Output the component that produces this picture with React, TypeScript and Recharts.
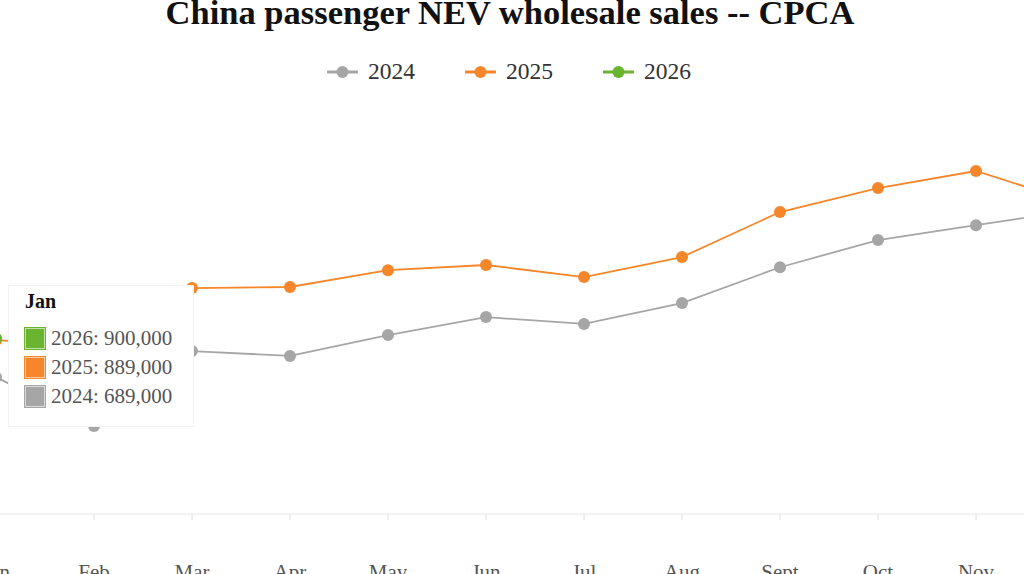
import React from 'react';
import { LineChart, Line, XAxis, YAxis, Tooltip, Legend } from 'recharts';

const months = ['Jan', 'Feb', 'Mar', 'Apr', 'May', 'Jun', 'Jul', 'Aug', 'Sept', 'Oct', 'Nov', 'Dec'];
const sales2024 = [689000, 425000, 830000, 804000, 917000, 1014000, 977000, 1090000, 1284000, 1431000, 1512000, 1592000];
const sales2025 = [889000, 860000, 1171000, 1177000, 1268000, 1296000, 1231000, 1339000, 1583000, 1713000, 1805000, 1636000];
const sales2026: (number | null)[] = [900000, null, null, null, null, null, null, null, null, null, null, null];

const seriesNames = ['2024', '2025', '2026'];
const seriesColors = ['#a6a6a6', '#f5862a', '#6ab42f'];

const data = months.map((m, i) => ({
  month: m,
  '2024': sales2024[i],
  '2025': sales2025[i],
  '2026': sales2026[i],
}));

const SERIF = '"Liberation Serif", "Times New Roman", serif';

const LegendContent = () => (
  <div style={{ display: 'flex', justifyContent: 'center', alignItems: 'center', fontFamily: SERIF, fontSize: 23.5, color: '#333' }}>
    {seriesNames.map((n, i) => (
      <div key={n} style={{ display: 'flex', alignItems: 'center', margin: '0 25px' }}>
        <svg width={31} height={14} style={{ marginRight: 10 }}>
          <line x1={0} y1={7} x2={31} y2={7} stroke={seriesColors[i]} strokeWidth={3} />
          <circle cx={15.5} cy={7} r={6} fill={seriesColors[i]} />
        </svg>
        <span>{n}</span>
      </div>
    ))}
  </div>
);

const TooltipContent = (props: any) => {
  const { payload, label } = props;
  if (!payload || !payload.length) return null;
  const items = [...payload].reverse();
  return (
    <div style={{ background: '#fff', border: '1px solid rgba(0,0,0,0.05)', padding: '4px 18px 15px 16px', fontFamily: SERIF, width: 150 }}>
      <div style={{ fontWeight: 'bold', fontSize: 20, color: '#111', marginBottom: 11 }}>{label}</div>
      {items.map((p: any) => (
        <div key={p.dataKey} style={{ display: 'flex', alignItems: 'center', height: 29, fontSize: 21, color: '#555' }}>
          <span style={{ display: 'inline-block', width: 18, height: 19, background: p.color, border: '1px solid rgba(255,255,255,0.6)', outline: '1px solid ' + p.color, marginRight: 6 }} />
          <span>{p.name}: {Number(p.value).toLocaleString('en-US')}</span>
        </div>
      ))}
    </div>
  );
};

export default function App() {
  return (
    <div style={{ position: 'absolute', left: 0, top: 0, width: 1024, height: 574, overflow: 'hidden', background: '#fff' }}>
      <div style={{ position: 'absolute', left: -4, top: 0 }}>
        <LineChart width={1078} height={574} data={data} margin={{ top: 135, right: 0, bottom: 0, left: 0 }}>
          <XAxis
            dataKey="month"
            height={60}
            interval={0}
            axisLine={{ stroke: '#e8e8e8' }}
            tickLine={{ stroke: '#e0e0e0' }}
            tickSize={6}
            tick={{ fill: '#555', fontFamily: SERIF, fontSize: 21, dy: 42 }}
          />
          <YAxis hide domain={[-52000, 2000000]} />
          <Legend verticalAlign="middle" content={<LegendContent />} wrapperStyle={{ position: 'absolute', top: 58, left: 1, width: 1024, bottom: 'auto', right: 'auto' }} />
          <Tooltip
            defaultIndex={0}
            active
            position={{ x: 12, y: 285 }}
            cursor={false}
            isAnimationActive={false}
            content={<TooltipContent />}
            wrapperStyle={{ zIndex: 10 }}
          />
          {seriesNames.map((n, i) => (
            <Line
              key={n}
              type="linear"
              dataKey={n}
              name={n}
              stroke={seriesColors[i]}
              strokeWidth={1.8}
              dot={{ r: 6, fill: seriesColors[i], stroke: seriesColors[i], strokeWidth: 0 }}
              activeDot={false}
              isAnimationActive={false}
              connectNulls={false}
            />
          ))}
        </LineChart>
      </div>
      <div style={{ position: 'absolute', top: -5, left: 0, width: 1020, textAlign: 'center', fontFamily: SERIF, fontWeight: 'bold', fontSize: 34.5, lineHeight: '34px', color: '#111' }}>
        China passenger NEV wholesale sales -- CPCA
      </div>
    </div>
  );
}
